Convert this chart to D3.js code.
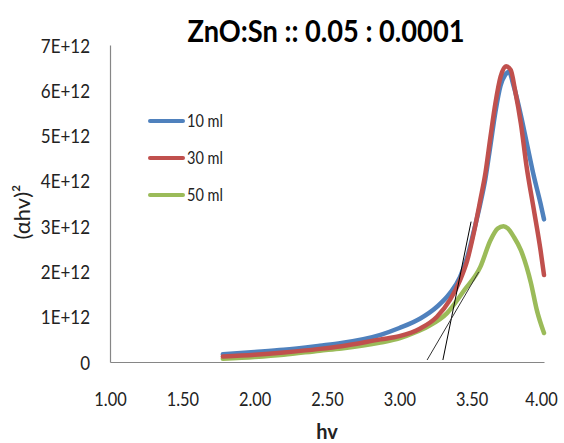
<!DOCTYPE html>
<html><head><meta charset="utf-8">
<script src="https://cdn.jsdelivr.net/npm/d3@7"></script>
<style>body{margin:0;background:#fff}svg{display:block}</style>
</head><body>
<svg id="c" width="564" height="443"></svg>
<script>
// ---- data (values in units of 1E+12) ----
const titleText = "ZnO:Sn :: 0.05 : 0.0001";
const seriesNames = ["10 ml", "30 ml", "50 ml"];
const seriesColors = ["#4F81BD", "#C0504D", "#9BBB59"];

const hv10 = [1.78, 2.0, 2.2, 2.45, 2.6, 2.87, 3.0, 3.145, 3.26, 3.35, 3.42, 3.47, 3.514, 3.56, 3.595, 3.63, 3.664, 3.70, 3.73, 3.757, 3.79, 3.84, 3.88, 3.93, 3.976, 4.0];
const ah10 = [0.17, 0.22, 0.27, 0.36, 0.42, 0.60, 0.75, 0.96, 1.22, 1.52, 1.88, 2.32, 2.88, 3.5, 4.05, 4.79, 5.52, 6.11, 6.33, 6.41, 6.1, 5.45, 4.85, 4.1, 3.5, 3.15];

const hv30 = [1.78, 2.0, 2.2, 2.45, 2.6, 2.87, 3.0, 3.145, 3.26, 3.35, 3.42, 3.47, 3.514, 3.56, 3.595, 3.63, 3.664, 3.70, 3.738, 3.77, 3.80, 3.84, 3.88, 3.93, 3.976, 4.0];
const ah30 = [0.12, 0.16, 0.21, 0.29, 0.35, 0.50, 0.57, 0.74, 1.0, 1.37, 1.81, 2.25, 2.84, 3.58, 4.17, 4.97, 5.71, 6.30, 6.53, 6.45, 6.0, 5.27, 4.31, 3.36, 2.47, 1.92];

const hv50 = [1.78, 2.0, 2.2, 2.45, 2.6, 2.87, 3.0, 3.1, 3.2, 3.33, 3.45, 3.56, 3.63, 3.68, 3.72, 3.75, 3.79, 3.84, 3.91, 3.95, 4.0];
const ah50 = [0.07, 0.11, 0.16, 0.25, 0.30, 0.43, 0.52, 0.64, 0.79, 1.08, 1.59, 2.1, 2.69, 2.95, 3.0, 2.95, 2.77, 2.47, 1.74, 1.15, 0.64];

// tangent (band-gap extrapolation) lines
const tangent1Hv = [3.301, 3.496];
const tangent1Ah = [0.044, 3.10];
const tangent2Hv = [3.192, 3.549];
const tangent2Ah = [0.044, 1.99];

const xTicks = [1.0, 1.5, 2.0, 2.5, 3.0, 3.5, 4.0];
const yTicks = [0, 1, 2, 3, 4, 5, 6, 7];
const yTickLabels = ["0", "1E+12", "2E+12", "3E+12", "4E+12", "5E+12", "6E+12", "7E+12"];
const xTitle = "hv";
const yTitle = "(αhv)²";

// ---- layout ----
const svg = d3.select("#c");
const FONT = "Lato, 'Open Sans', sans-serif";
const x = d3.scaleLinear().domain([1, 4]).range([110, 544]);
const y = d3.scaleLinear().domain([0, 7]).range([362, 45]);

function squeeze(sel, f) {
  sel.each(function () {
    const w = this.getComputedTextLength();
    d3.select(this).attr("textLength", w * f).attr("lengthAdjust", "spacingAndGlyphs");
  });
}

// title
svg.append("text").attr("x", 326).attr("y", 42).attr("text-anchor", "middle")
  .attr("font-family", FONT).attr("font-weight", "bold").attr("font-size", 30)
  .attr("fill", "#000").text(titleText)
  .attr("textLength", 277).attr("lengthAdjust", "spacingAndGlyphs");

// axes
const xAxis = d3.axisBottom(x).tickValues(xTicks).tickFormat(d3.format(".2f")).tickSize(0).tickPadding(0);
const gx = svg.append("g").attr("transform", `translate(0,${y(0)})`).call(xAxis);
gx.select(".domain").attr("stroke", "#868686").attr("stroke-width", 1.2);
gx.selectAll("text").attr("font-family", FONT).attr("font-size", 19.5).attr("fill", "#222")
  .attr("y", 44).attr("dy", 0)
  .attr("x", d => (d === 4 ? -3 : 0));
squeeze(gx.selectAll("text"), 0.84);

const yAxis = d3.axisLeft(y).tickValues(yTicks).tickFormat((d, i) => yTickLabels[i]).tickSize(0).tickPadding(0);
const gy = svg.append("g").attr("transform", `translate(${x(1)},0)`).call(yAxis);
gy.select(".domain").attr("stroke", "#868686").attr("stroke-width", 1.2);
gy.selectAll("text").attr("font-family", FONT).attr("font-size", 19.5).attr("fill", "#222")
  .attr("x", -20).attr("dy", "0.36em");
squeeze(gy.selectAll("text"), 0.87);

// axis titles
svg.append("text").attr("x", 327).attr("y", 439).attr("text-anchor", "middle")
  .attr("font-family", FONT).attr("font-weight", "bold").attr("font-size", 20).attr("fill", "#222")
  .text(xTitle);
svg.append("text").attr("transform", "translate(30,212) rotate(-90)").attr("text-anchor", "middle")
  .attr("font-family", FONT).attr("font-size", 22).attr("fill", "#222")
  .text(yTitle);

// series
const series = [
  { hv: hv10, v: ah10 },
  { hv: hv30, v: ah30 },
  { hv: hv50, v: ah50 }
];
const line = d3.line().x(d => x(d[0])).y(d => y(d[1])).curve(d3.curveMonotoneX);
const drawOrder = [0, 2, 1];
drawOrder.forEach(i => {
  const s = series[i];
  svg.append("path")
    .datum(s.hv.map((h, j) => [h, s.v[j]]))
    .attr("fill", "none").attr("stroke", seriesColors[i]).attr("stroke-width", 4.5)
    .attr("stroke-linejoin", "round").attr("stroke-linecap", "round")
    .attr("d", line);
});

// tangent lines
const tl = d3.line().x(d => x(d[0])).y(d => y(d[1]));
svg.append("path").datum(tangent1Hv.map((h, j) => [h, tangent1Ah[j]]))
  .attr("fill", "none").attr("stroke", "#000").attr("stroke-width", 1).attr("d", tl);
svg.append("path").datum(tangent2Hv.map((h, j) => [h, tangent2Ah[j]]))
  .attr("fill", "none").attr("stroke", "#333").attr("stroke-width", 1).attr("d", tl);

// legend
const lg = svg.append("g");
seriesNames.forEach((n, i) => {
  const ly = 121 + i * 37;
  lg.append("line").attr("x1", 150).attr("x2", 183).attr("y1", ly).attr("y2", ly)
    .attr("stroke", seriesColors[i]).attr("stroke-width", 4).attr("stroke-linecap", "round");
  lg.append("text").attr("x", 187).attr("y", ly).attr("dy", "0.36em")
    .attr("font-family", FONT).attr("font-size", 16.5).attr("fill", "#222").text(n);
});
squeeze(lg.selectAll("text"), 0.88);
</script>
</body></html>
